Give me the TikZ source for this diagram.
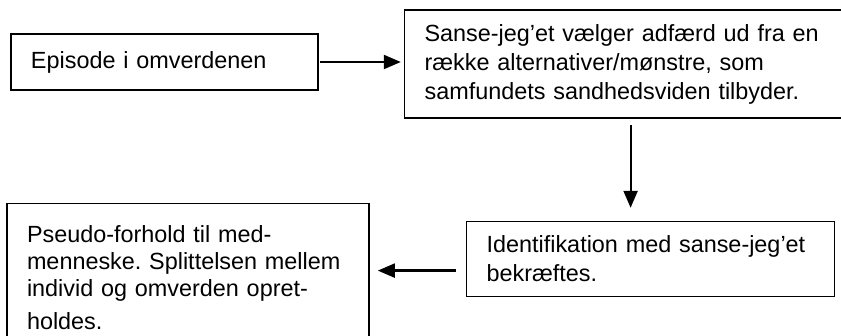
\documentclass[tikz,border=0pt]{standalone}
\usepackage{fontspec}
\setmainfont{Liberation Sans}
\usetikzlibrary{positioning, arrows.meta}

\begin{document}
\frenchspacing
\begin{tikzpicture}[x=0.5pt,y=-0.5pt,font=\fontsize{11.7}{14.5}\selectfont,
    box/.style={draw,line width=0.8pt,rectangle,align=left,inner xsep=10pt,inner ysep=0pt},
    arr/.style={->,line width=1.1pt},
    >={Triangle[length=8.5pt,width=7pt]}]
    \useasboundingbox (0,0) rectangle (841,336);
    \clip (0,0) rectangle (841,336);

    \node[box, text width=133.5pt, minimum height=28pt] (E) at (164.5,62) {Episode i omverdenen};
    \node[box, text width=198.5pt, minimum height=54pt, right=42.5pt of E, yshift=-1pt] (S)
        {\mbox{Sanse-jeg’et vælger adfærd ud fra en}\\ række alternativer/mønstre, som\\ samfundets sandhedsviden tilbyder.};
    \node[box, text width=164pt, minimum height=37.5pt, below=51pt of S, xshift=13.75pt] (I)
        {\mbox{Identifikation med sanse-jeg’et}\\ bekræftes.};
    \node[box, text width=161pt, inner ysep=11pt, left=48pt of I.north west, anchor=north east, yshift=9pt,
        font=\fontsize{11.7}{13.5}\selectfont] (P)
        {Pseudo-forhold til med-\\ menneske. Splittelsen mellem\\ individ og omverden opret-\\[3pt] holdes.\rule[-10pt]{0pt}{0pt}};

    \coordinate (m) at ([shift={(-10,11.5)}]I.west);
    \path[arr]
    ([xshift=0.5pt]E.east) edge [shorten >=1.5pt] (E.east -| S.west)
    ([shift={(7.5,6)}]S.south) edge ([shift={(-20,-13)}]I.north)
    (m) edge [shorten >=4pt] (P.east |- m)
    ;
\end{tikzpicture}
\end{document}
